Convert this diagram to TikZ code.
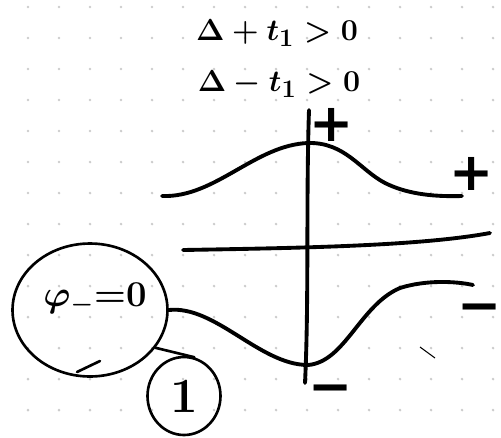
\documentclass[tikz,border=0pt]{standalone}
\usepackage{fontspec}
\newfontfamily\signfont{DejaVu Sans}
\usetikzlibrary{shapes.geometric}
\tikzset{
  ink/.style={line width=2.2pt, line cap=round, line join=round},
  pen/.style={line width=1.5pt, line cap=round, line join=round},
  griddot/.style={fill=black!20},
  sign/.style={font=\fontsize{30}{32}\signfont\bfseries, inner sep=0pt},
  cond/.style={font=\fontsize{19}{22}\selectfont\boldmath, inner sep=0pt},
}
\begin{document}
\begin{tikzpicture}[x=0.02cm,y=-0.02cm]
\useasboundingbox (0,0) rectangle (501,437);
% dotted paper
\foreach \i in {0,...,15}
  \foreach \j in {0,...,13}
    \fill[griddot] (28+31*\i,7+31*\j) circle (0.85pt);
% conditions
\node[cond] (cplus) at (277,33) {$\Delta+t_1>0$};
\node[cond] (cminus) at (279,84) {$\Delta-t_1>0$};
% axis and bands
\draw[ink] (309,110) .. controls (306,200) and (309,300) .. (305,383);
\draw[ink] (162,196) .. controls (215,198) and (255,145) .. (308,143)
                     .. controls (345,142) and (360,170) .. (385,183)
                     .. controls (405,193) and (430,197) .. (462,196);
\draw[ink] (183,250) .. controls (300,248) and (420,246) .. (490,233);
% loop with phi and the circled one
\node[ellipse, draw, pen, minimum width=3.1cm, minimum height=2.66cm] (blob) at (90,310) {};
\node[font=\fontsize{20}{23}\selectfont\boldmath] (phi) at (95,299) {$\varphi_{-}{=}0$};
\node[ellipse, draw, pen, minimum width=1.46cm, minimum height=1.56cm,
      font=\fontsize{28}{30}\selectfont\bfseries] (one) at (184,396) {1};
\draw[pen] (77,372) -- (100,361);
\draw[pen] (blob.-30) -- (one.75);
\draw[ink] (blob.east) .. controls (215,305) and (260,365) .. (308,365)
                       .. controls (345,362) and (360,305) .. (400,288)
                       .. controls (425,280) and (455,281) .. (473,285);
% signs
\node[sign] (ptop) at (332,125) {+};
\node[sign] (pright) at (472,174) {+};
\node[sign] (mright) at (480,314) {−};
\node[sign] (mbot) at (331,395) {−};
\draw[line width=0.6pt] (420,347) -- (435,358);
\end{tikzpicture}
\end{document}
